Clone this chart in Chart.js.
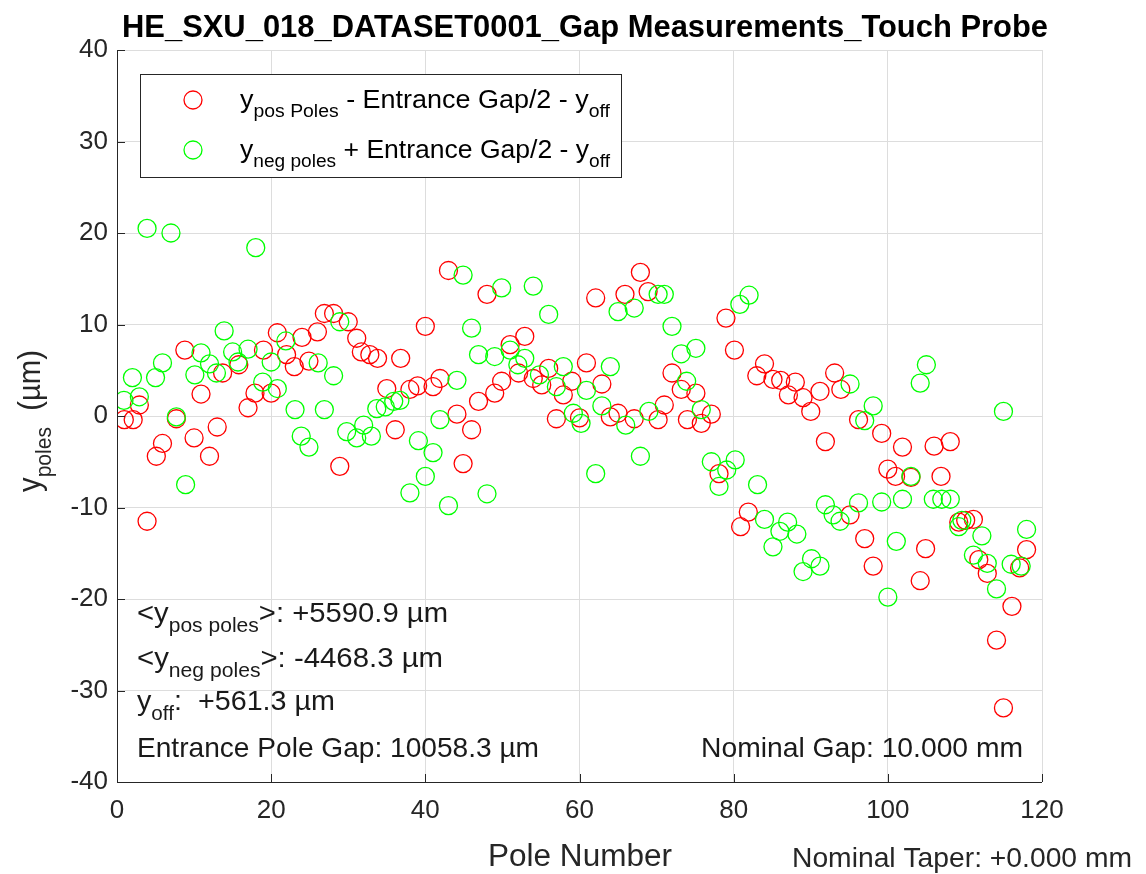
<!DOCTYPE html>
<html>
<head>
<meta charset="utf-8">
<script src="https://cdn.jsdelivr.net/npm/chart.js@4.4.1/dist/chart.umd.min.js"></script>
<style>
  html, body { margin: 0; padding: 0; background: #fff; }
  canvas { display: block; }
</style>
</head>
<body>
<canvas id="gapChart" width="1146" height="874"></canvas>
<script>
// pole number / deviation (um)
const posX = [0.95, 2.1, 2.9, 3.9, 5.1, 5.9, 7.7, 8.8, 10.0, 10.9, 12.0, 13.0, 13.7, 15.8, 17.0, 17.9, 19.0, 20.0, 20.8, 22.0,
  23.0, 24.0, 24.9, 26.0, 26.9, 28.1, 28.9, 30.0, 31.1, 31.7, 32.8, 33.8, 35.0, 36.1, 36.8, 38.0, 39.0, 40.0, 41.0, 41.9,
  43.0, 44.1, 44.9, 46.0, 46.9, 48.0, 49.0, 49.9, 51.0, 52.1, 52.9, 54.0, 55.1, 56.0, 57.0, 57.9, 59.0, 60.0, 60.9, 62.1,
  62.9, 64.0, 65.0, 65.9, 67.1, 67.9, 68.9, 70.2, 71.0, 72.0, 73.2, 74.0, 75.1, 75.8, 77.1, 78.1, 79.0, 80.1, 80.9, 81.9,
  83.0, 84.0, 85.1, 86.1, 87.1, 88.0, 89.0, 90.0, 91.2, 91.9, 93.1, 93.9, 95.1, 96.2, 97.0, 98.1, 99.2, 100.0, 101.0, 101.9,
  103.0, 104.2, 104.9, 106.0, 106.9, 108.1, 109.2, 110.1, 111.1, 111.8, 112.9, 114.1, 115.0, 116.1, 117.1, 118.0];
const posY = [-0.4, -0.4, 1.2, -11.5, -4.4, -3.0, -0.3, 7.2, -2.4, 2.4, -4.4, -1.2, 4.7, 5.6, 0.9, 2.5, 7.2, 2.5, 9.1, 6.7,
  5.4, 8.6, 6.0, 9.2, 11.2, 11.2, -5.5, 10.3, 8.5, 7.0, 6.7, 6.3, 3.0, -1.5, 6.3, 2.9, 3.3, 9.8, 3.2, 4.1,
  15.9, 0.2, -5.2, -1.5, 1.6, 13.3, 2.5, 3.8, 7.8, 4.7, 8.7, 4.1, 3.4, 5.2, -0.3, 2.3, 3.8, -0.2, 5.8, 12.9,
  3.5, -0.1, 0.3, 13.3, -0.3, 15.7, 13.6, -0.4, 1.2, 4.7, 2.9, -0.4, 2.5, -0.8, 0.2, -6.3, 10.7, 7.2, -12.1, -10.5,
  4.4, 5.7, 4.0, 3.9, 2.3, 3.7, 2.0, 0.5, 2.7, -2.8, 4.7, 2.9, -10.8, -0.4, -13.4, -16.4, -1.9, -5.8, -6.6, -3.4,
  -6.7, -18.0, -14.5, -3.3, -6.6, -2.8, -11.6, -11.4, -11.3, -15.7, -17.2, -24.5, -31.9, -20.8, -16.6, -14.6];

const negX = [0.9, 2.0, 2.9, 3.9, 5.0, 5.9, 7.0, 7.7, 8.9, 10.1, 10.9, 12.0, 12.9, 13.9, 15.0, 15.7, 17.0, 18.0, 18.9, 20.0,
  20.8, 21.9, 23.1, 23.9, 24.9, 26.1, 26.9, 28.1, 28.9, 29.8, 31.1, 32.0, 33.0, 33.7, 34.8, 35.9, 36.7, 38.0, 39.1, 40.0,
  41.0, 41.9, 43.0, 44.1, 44.9, 46.0, 46.9, 48.0, 49.0, 49.9, 51.0, 52.0, 52.9, 54.0, 54.8, 56.0, 57.0, 57.9, 59.2, 60.2,
  60.9, 62.1, 62.9, 64.0, 65.0, 66.0, 67.1, 67.9, 69.0, 70.2, 71.0, 72.0, 73.2, 73.9, 75.1, 75.8, 77.1, 78.1, 79.1, 80.2,
  80.8, 82.0, 83.1, 84.0, 85.1, 86.0, 87.0, 88.2, 89.0, 90.1, 91.2, 91.9, 92.9, 93.8, 95.1, 96.2, 97.0, 98.1, 99.2, 100.0,
  101.1, 101.9, 103.0, 104.2, 105.0, 105.9, 107.0, 108.1, 109.2, 109.6, 111.1, 112.2, 112.9, 114.1, 115.0, 116.0, 117.3, 118.0];
const negY = [1.7, 4.2, 2.1, 20.5, 4.2, 5.8, 20.0, -0.1, -7.5, 4.5, 6.9, 5.7, 4.7, 9.3, 7.0, 5.9, 7.3, 18.4, 3.7, 5.9,
  3.0, 8.2, 0.7, -2.2, -3.4, 5.8, 0.7, 4.4, 10.3, -1.7, -2.4, -1.0, -2.2, 0.8, 1.0, 1.6, 1.7, -8.4, -2.7, -6.6,
  -4.0, -0.4, -9.8, 3.9, 15.4, 9.6, 6.7, -8.5, 6.5, 14.0, 7.2, 5.6, 6.3, 14.2, 4.5, 11.1, 3.2, 5.4, 0.3, -0.8,
  2.8, -6.3, 1.1, 5.4, 11.4, -1.0, 11.8, -4.4, 0.5, 13.3, 13.3, 9.8, 6.8, 3.8, 7.4, 0.7, -5.0, -7.7, -5.9, -4.8,
  12.2, 13.2, -7.5, -11.3, -14.3, -12.6, -11.6, -12.9, -17.0, -15.6, -16.4, -9.7, -10.8, -11.5, 3.5, -9.5, -0.5, 1.1, -9.4, -19.8,
  -13.7, -9.1, -6.6, 3.6, 5.6, -9.1, -9.1, -9.1, -12.1, -11.4, -15.2, -13.1, -16.1, -18.9, 0.5, -16.2, -16.4, -12.4];

const xTicks = [0, 20, 40, 60, 80, 100, 120];
const yTicks = [-40, -30, -20, -10, 0, 10, 20, 30, 40];

const FONT = '"Liberation Sans", Arial, sans-serif';
const INK = '#262626';

function toPoints(xs, ys) {
  return xs.map((x, i) => ({ x: x, y: ys[i] }));
}

// text with subscripts: segs = [[text, isSub], ...]
function richWidth(ctx, segs, size, bold) {
  let w = 0;
  segs.forEach(([t, sub]) => {
    ctx.font = (bold ? 'bold ' : '') + (sub ? size * 0.72 : size) + 'px ' + FONT;
    w += ctx.measureText(t).width;
  });
  return w;
}

function drawRich(ctx, segs, x, y, size, fitW, bold) {
  const w = richWidth(ctx, segs, size, bold);
  const k = fitW ? fitW / w : 1;
  ctx.save();
  ctx.translate(x, y);
  ctx.scale(k, 1);
  ctx.textBaseline = 'alphabetic';
  ctx.textAlign = 'left';
  let cx = 0;
  segs.forEach(([t, sub]) => {
    ctx.font = (bold ? 'bold ' : '') + (sub ? size * 0.72 : size) + 'px ' + FONT;
    ctx.fillText(t, cx, sub ? size * 0.36 : 0);
    cx += ctx.measureText(t).width;
  });
  ctx.restore();
}

const matlabDecor = {
  id: 'matlabDecor',
  beforeDraw(chart) {
    const ctx = chart.ctx;
    ctx.save();
    ctx.fillStyle = '#fff';
    ctx.fillRect(0, 0, chart.width, chart.height);
    ctx.restore();
  },
  afterDraw(chart) {
    const ctx = chart.ctx;
    const a = chart.chartArea;
    const xs = chart.scales.x, ys = chart.scales.y;
    ctx.save();

    // axes lines and inward ticks
    ctx.strokeStyle = INK;
    ctx.lineWidth = 1;
    ctx.beginPath();
    ctx.moveTo(a.left + 0.5, a.top);
    ctx.lineTo(a.left + 0.5, a.bottom + 0.5);
    ctx.lineTo(a.right, a.bottom + 0.5);
    xTicks.forEach(v => {
      const px = Math.round(xs.getPixelForValue(v)) + 0.5;
      ctx.moveTo(px, a.bottom);
      ctx.lineTo(px, a.bottom - 8);
    });
    yTicks.forEach(v => {
      const py = Math.round(ys.getPixelForValue(v)) + 0.5;
      ctx.moveTo(a.left, py);
      ctx.lineTo(a.left + 8, py);
    });
    ctx.stroke();

    // title
    ctx.fillStyle = '#000';
    drawRich(ctx, [['HE_SXU_018_DATASET0001_Gap Measurements_Touch Probe', false]], 122, 37, 32, 926, true);

    // axis titles
    ctx.fillStyle = INK;
    drawRich(ctx, [['Pole Number', false]], 488, 866, 31, 184);
    ctx.save();
    ctx.translate(40, 492);
    ctx.rotate(-Math.PI / 2);
    drawRich(ctx, [['y', false], ['poles', true], ['  (\u00b5m)', false]], 0, 0, 31, 142);
    ctx.restore();
    drawRich(ctx, [['Nominal Taper: +0.000 mm', false]], 792, 867, 28, 340);

    // legend
    ctx.fillStyle = '#fff';
    ctx.fillRect(140.5, 74.5, 481, 103);
    ctx.strokeStyle = INK;
    ctx.strokeRect(140.5, 74.5, 481, 103);
    const legendRows = [
      { color: '#ff0000', y: 100, segs: [['y', false], ['pos Poles', true], [' - Entrance Gap/2 - y', false], ['off', true]] },
      { color: '#00ff00', y: 150, segs: [['y', false], ['neg poles', true], [' + Entrance Gap/2 - y', false], ['off', true]] }
    ];
    legendRows.forEach(r => {
      ctx.strokeStyle = r.color;
      ctx.lineWidth = 1.3;
      ctx.beginPath();
      ctx.arc(193, r.y, 9, 0, Math.PI * 2);
      ctx.stroke();
      ctx.fillStyle = '#000';
      drawRich(ctx, r.segs, 240, r.y + 8, 25, 370);
    });

    // annotations inside the axes
    ctx.fillStyle = '#1a1a1a';
    drawRich(ctx, [['<y', false], ['pos poles', true], ['>: +5590.9 \u00b5m', false]], 137, 622, 28, 311);
    drawRich(ctx, [['<y', false], ['neg poles', true], ['>: -4468.3 \u00b5m', false]], 137, 667, 28, 306);
    drawRich(ctx, [['y', false], ['off', true], [':  +561.3 \u00b5m', false]], 137, 710, 28, 198);
    drawRich(ctx, [['Entrance Pole Gap: 10058.3 \u00b5m', false]], 137, 757, 28, 402);
    drawRich(ctx, [['Nominal Gap: 10.000 mm', false]], 701, 757, 28, 322);

    ctx.restore();
  }
};

new Chart(document.getElementById('gapChart'), {
  type: 'scatter',
  data: {
    datasets: [
      {
        label: 'pos',
        data: toPoints(posX, posY),
        borderColor: '#ff0000',
        backgroundColor: 'rgba(0,0,0,0)',
        pointRadius: 9,
        pointBorderWidth: 1.3,
        pointHoverRadius: 9,
        order: 2
      },
      {
        label: 'neg',
        data: toPoints(negX, negY),
        borderColor: '#00ff00',
        backgroundColor: 'rgba(0,0,0,0)',
        pointRadius: 9,
        pointBorderWidth: 1.3,
        pointHoverRadius: 9,
        order: 1
      }
    ]
  },
  options: {
    responsive: false,
    animation: false,
    layout: { padding: { top: 50, right: 104, left: 0, bottom: 0 } },
    plugins: {
      legend: { display: false },
      tooltip: { enabled: false }
    },
    scales: {
      x: {
        type: 'linear',
        min: 0,
        max: 120,
        afterBuildTicks: s => { s.ticks = xTicks.map(v => ({ value: v })); },
        afterFit: s => { s.height = 92; },
        grid: { color: '#dddddd', drawTicks: false },
        border: { display: false },
        ticks: { color: INK, font: { family: FONT, size: 26 }, padding: 13, maxRotation: 0 }
      },
      y: {
        type: 'linear',
        min: -40,
        max: 40,
        afterBuildTicks: s => { s.ticks = yTicks.map(v => ({ value: v })); },
        afterFit: s => { s.width = 117; },
        grid: { color: '#dddddd', drawTicks: false },
        border: { display: false },
        ticks: { color: INK, font: { family: FONT, size: 26 }, padding: 9 }
      }
    }
  },
  plugins: [matlabDecor]
});
</script>
</body>
</html>
